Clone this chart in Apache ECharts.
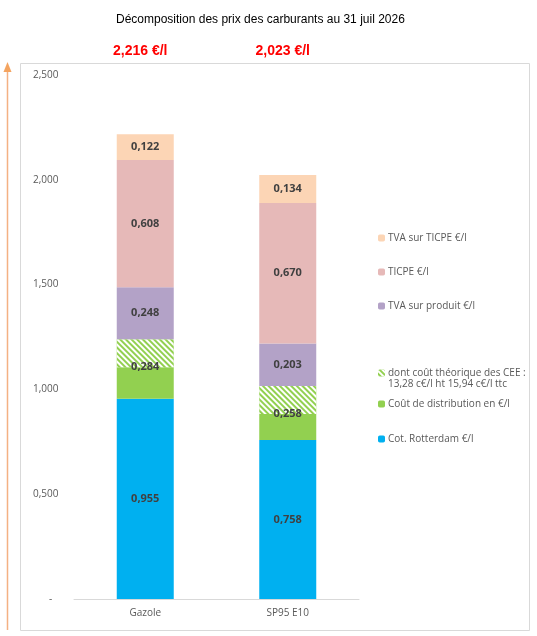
<!DOCTYPE html>
<html>
<head>
<meta charset="utf-8">
<script src="https://cdn.jsdelivr.net/npm/echarts@6/dist/echarts.min.js"></script>
<style>
  html, body { margin: 0; padding: 0; background: #fff; }
  #chart { width: 537px; height: 636px; }
</style>
</head>
<body>
<div id="chart"></div>
<script>
// categories and values (euros per litre)
const categories = ['Gazole', 'SP95 E10'];
const rotterdam = [0.955, 0.758];
const distribution = [0.284, 0.258];   // includes the CEE part
const cee = [0.1328, 0.1328];          // 13,28 c€/l ht
const tvaProduit = [0.248, 0.203];
const ticpe = [0.608, 0.670];
const tvaTicpe = [0.122, 0.134];
const totalLabels = ['2,216 €/l', '2,023 €/l'];
const yTicks = [0, 0.5, 1, 1.5, 2, 2.5];

const fmt = v => v.toFixed(3).replace('.', ',');
const distExCee = distribution.map((d, i) => +(d - cee[i]).toFixed(4));

const names = {
  rot: 'Cot. Rotterdam €/l',
  dist: 'Coût de distribution en €/l',
  cee: 'dont coût théorique des CEE :',
  tvaP: 'TVA sur produit €/l',
  ticpe: 'TICPE €/l',
  tvaT: 'TVA sur TICPE €/l'
};

const chart = echarts.init(document.getElementById('chart'));

const segLabel = {
  show: true,
  color: '#404040',
  fontFamily: 'Open Sans',
  fontWeight: 'bold',
  fontSize: 11,
  formatter: p => fmt(p.value)
};

function bar(name, data, color, extra) {
  return Object.assign({
    name: name,
    type: 'bar',
    stack: 'total',
    barWidth: '40%',
    data: data,
    itemStyle: { color: color },
    label: segLabel,
    emphasis: { disabled: true }
  }, extra || {});
}

function legendAt(name, top) {
  return {
    data: [name],
    left: 378,
    top: top,
    itemWidth: 7,
    itemHeight: 7,
    itemGap: 0,
    padding: 0,
    selectedMode: false,
    textStyle: { fontFamily: 'Open Sans', fontSize: 10, color: '#595959', padding: [0, 0, 0, -2] }
  };
}

const option = {
  animation: false,
  title: {
    text: 'Décomposition des prix des carburants au 31 juil 2026',
    left: 111,
    top: 9,
    textStyle: { fontFamily: 'Liberation Sans', fontSize: 12, fontWeight: 'normal', color: '#000' }
  },
  legend: [
    legendAt(names.tvaT, 233),
    legendAt(names.ticpe, 267),
    legendAt(names.tvaP, 301),
    legendAt(names.cee, 368),
    legendAt(names.dist, 399),
    legendAt(names.rot, 434)
  ],
  grid: { left: 74, right: 178, top: 75, bottom: 37 },
  xAxis: [
    {
      type: 'category',
      data: categories,
      axisLine: { lineStyle: { color: '#D9D9D9', width: 1 } },
      axisTick: { show: false },
      axisLabel: { color: '#595959', fontFamily: 'Open Sans', fontSize: 10, margin: 9 }
    },
    {
      type: 'category',
      position: 'top',
      data: totalLabels,
      axisLine: { show: false },
      axisTick: { show: false },
      axisLabel: {
        color: '#FF0000', fontFamily: 'Liberation Sans', fontWeight: 'bold', fontSize: 14,
        margin: 17, padding: [0, 10, 0, 0]
      }
    }
  ],
  yAxis: {
    type: 'value',
    min: yTicks[0],
    max: yTicks[yTicks.length - 1],
    interval: 0.5,
    splitLine: { show: false },
    axisLine: { show: false },
    axisTick: { show: false },
    axisLabel: {
      align: 'left',
      margin: 41,
      color: '#595959',
      fontFamily: 'Open Sans',
      fontSize: 10,
      formatter: v => v === 0 ? '{z|-}' : fmt(v),
      rich: { z: { padding: [0, 0, 0, 16], color: '#595959', fontSize: 10 } }
    }
  },
  series: [
    bar(names.rot, rotterdam, '#00B0F0'),
    bar(names.dist, distExCee, '#92D050', {
      label: Object.assign({}, segLabel, {
        position: ['50%', '0%'],
        align: 'center',
        verticalAlign: 'middle',
        formatter: p => fmt(distribution[p.dataIndex])
      })
    }),
    bar(names.cee, cee, '#92D050', {
      label: { show: false },
      itemStyle: {
        color: '#92D050',
        decal: {
          symbol: 'rect',
          symbolSize: 1,
          dashArrayX: [1, 0],
          dashArrayY: [1.5, 1.5],
          rotation: Math.PI / 4,
          color: '#FFFFFF'
        }
      }
    }),
    bar(names.tvaP, tvaProduit, '#B3A2C7'),
    bar(names.ticpe, ticpe, '#E6B9B8'),
    bar(names.tvaT, tvaTicpe, '#FCD5B5')
  ],
  graphic: [
    {
      type: 'rect',
      shape: { x: 20.5, y: 63.5, width: 509, height: 567 },
      style: { fill: 'none', stroke: '#D9D9D9', lineWidth: 1 },
      silent: true, z: -1
    },
    {
      type: 'line',
      shape: { x1: 7.5, y1: 630, x2: 7.5, y2: 70 },
      style: { stroke: '#F4B183', lineWidth: 1.5 },
      silent: true
    },
    {
      type: 'polygon',
      shape: { points: [[7.5, 62], [3.5, 72], [11.5, 72]] },
      style: { fill: '#F4A460' },
      silent: true
    },
    {
      type: 'text',
      left: 388,
      top: 379,
      style: {
        text: '13,28 c€/l ht 15,94 c€/l ttc',
        fill: '#595959',
        font: '10px "Open Sans"'
      },
      silent: true
    }
  ]
};

chart.setOption(option);
</script>
</body>
</html>
